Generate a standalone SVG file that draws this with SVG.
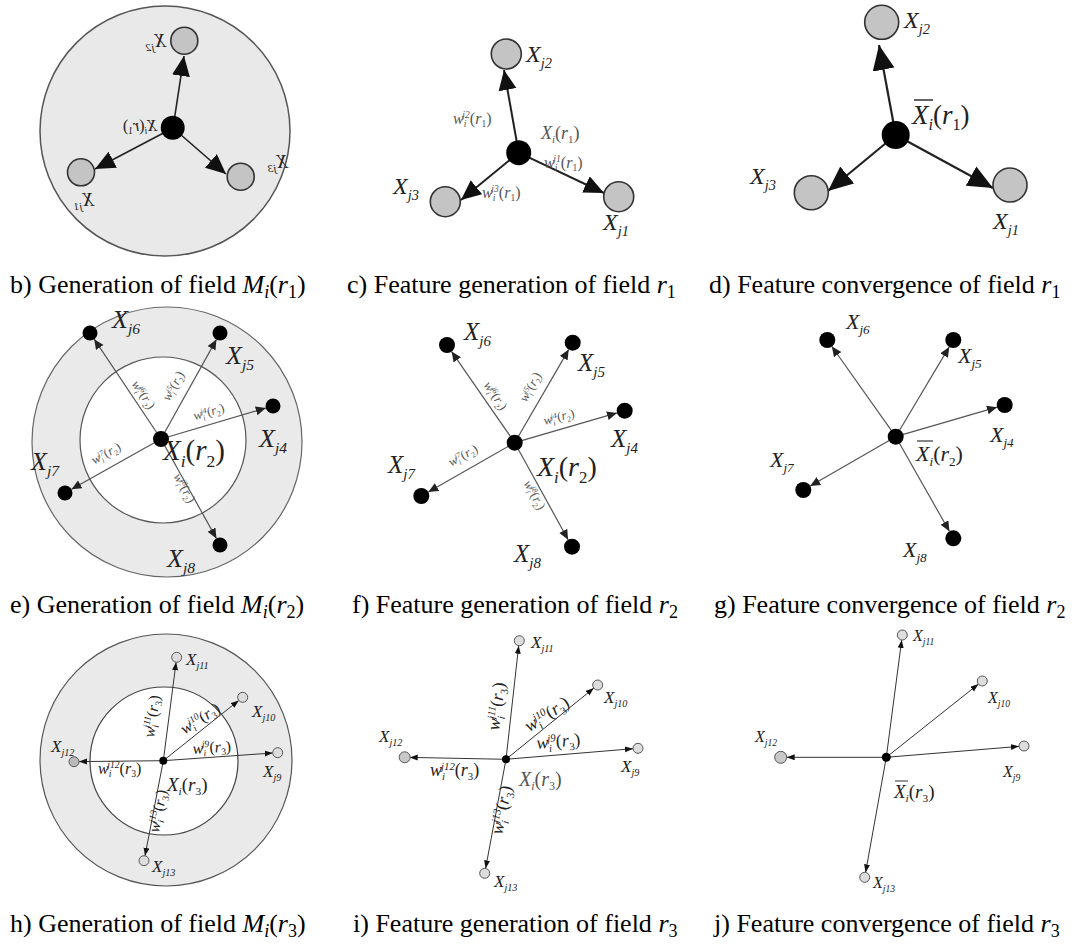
<svg xmlns="http://www.w3.org/2000/svg" width="1085" height="945" viewBox="0 0 1085 945">
<style>
.cap{font-family:"Liberation Serif",serif;font-size:26px;fill:#000}
.mi{font-style:italic}
.lb{font-family:"Liberation Serif",serif;font-style:italic;fill:#222}
.wl{font-family:"Liberation Serif",serif;font-style:italic;fill:#555}
.s{font-size:0.6em}
.up{font-style:normal}
.gn{fill:#c4c4c4;stroke:#333;stroke-width:1.6}
.gs{fill:#ddd;stroke:#555;stroke-width:1}
.bk{fill:#000}
.eb{stroke:#222;stroke-width:1.6;fill:none}
.ec{stroke:#222;stroke-width:2;fill:none}
.ed{stroke:#222;stroke-width:2.2;fill:none}
.ee{stroke:#555;stroke-width:1.2;fill:none}
.eh{stroke:#333;stroke-width:1;fill:none}
</style>
<defs>
<marker id="ab" markerUnits="userSpaceOnUse" markerWidth="22" markerHeight="20" refX="20" refY="9" orient="auto"><path d="M0,0 L20,9 L0,18 z" fill="#111"/></marker>
<marker id="ad" markerUnits="userSpaceOnUse" markerWidth="27" markerHeight="24" refX="25" refY="11" orient="auto"><path d="M0,0 L25,11 L0,22 z" fill="#111"/></marker>
<marker id="as" markerUnits="userSpaceOnUse" markerWidth="12" markerHeight="10" refX="10" refY="4.5" orient="auto"><path d="M0,0 L10,4.5 L0,9 z" fill="#222"/></marker>
<marker id="at" markerUnits="userSpaceOnUse" markerWidth="10" markerHeight="8" refX="8" refY="3" orient="auto"><path d="M0,0 L8,3 L0,6 z" fill="#111"/></marker>
</defs>

<!-- backgrounds -->
<circle cx="165" cy="131" r="125" fill="#e9e9e9" stroke="#555" stroke-width="1.5"/>
<circle cx="167" cy="442" r="135" fill="#eaeaea" stroke="#666" stroke-width="1.2"/>
<circle cx="163" cy="440" r="83" fill="#fff" stroke="#555" stroke-width="1.2"/>
<circle cx="166" cy="760" r="126" fill="#eaeaea" stroke="#555" stroke-width="1.2"/>
<circle cx="164" cy="761" r="74" fill="#fff" stroke="#444" stroke-width="1.2"/>

<g id="connectors">
<line class="eb" x1="173" y1="128" x2="184" y2="56" marker-end="url(#ab)"/>
<line class="eb" x1="173" y1="128" x2="95" y2="169" marker-end="url(#ab)"/>
<line class="eb" x1="173" y1="128" x2="226" y2="174" marker-end="url(#ab)"/>

<line class="ec" x1="518.7" y1="152.7" x2="504" y2="70" marker-end="url(#ab)"/>
<line class="ec" x1="518.7" y1="152.7" x2="461" y2="200" marker-end="url(#ab)"/>
<line class="ec" x1="518.7" y1="152.7" x2="604" y2="193" marker-end="url(#ab)"/>

<line class="ed" x1="895.7" y1="135" x2="879" y2="45" marker-end="url(#ad)"/>
<line class="ed" x1="895.7" y1="135" x2="828" y2="191" marker-end="url(#ad)"/>
<line class="ed" x1="895.7" y1="135" x2="993" y2="188" marker-end="url(#ad)"/>

<line class="ee" x1="161" y1="439" x2="94.2" y2="339.2" marker-end="url(#as)"/>
<line class="ee" x1="161" y1="439" x2="216.4" y2="339.6" marker-end="url(#as)"/>
<line class="ee" x1="161" y1="439" x2="265.8" y2="408.1" marker-end="url(#as)"/>
<line class="ee" x1="161" y1="439" x2="71.5" y2="489.3" marker-end="url(#as)"/>
<line class="ee" x1="161" y1="439" x2="216.4" y2="538.4" marker-end="url(#as)"/>

<line class="ee" x1="514.7" y1="442.7" x2="451.6" y2="351.6" marker-end="url(#as)"/>
<line class="ee" x1="514.7" y1="442.7" x2="568.7" y2="349.6" marker-end="url(#as)"/>
<line class="ee" x1="514.7" y1="442.7" x2="617" y2="412.9" marker-end="url(#as)"/>
<line class="ee" x1="514.7" y1="442.7" x2="428.3" y2="492" marker-end="url(#as)"/>
<line class="ee" x1="514.7" y1="442.7" x2="568.1" y2="539.7" marker-end="url(#as)"/>

<line class="ee" x1="895.7" y1="436.7" x2="831.9" y2="346.5" marker-end="url(#as)"/>
<line class="ee" x1="895.7" y1="436.7" x2="949.2" y2="346.9" marker-end="url(#as)"/>
<line class="ee" x1="895.7" y1="436.7" x2="997" y2="407.2" marker-end="url(#as)"/>
<line class="ee" x1="895.7" y1="436.7" x2="810.2" y2="486" marker-end="url(#as)"/>
<line class="ee" x1="895.7" y1="436.7" x2="949.4" y2="531.3" marker-end="url(#as)"/>

<line class="eh" x1="163.3" y1="760.7" x2="176.1" y2="662.3" marker-end="url(#at)"/>
<line class="eh" x1="163.3" y1="760.7" x2="238.8" y2="700.4" marker-end="url(#at)"/>
<line class="eh" x1="163.3" y1="760.7" x2="272.7" y2="753" marker-end="url(#at)"/>
<line class="eh" x1="163.3" y1="760.7" x2="79" y2="761.6" marker-end="url(#at)"/>
<line class="eh" x1="163.3" y1="760.7" x2="145" y2="855.8" marker-end="url(#at)"/>

<line class="eh" x1="506" y1="759.3" x2="518.7" y2="645.7" marker-end="url(#at)"/>
<line class="eh" x1="506" y1="759.3" x2="593.8" y2="688.1" marker-end="url(#at)"/>
<line class="eh" x1="506" y1="759.3" x2="633" y2="748.7" marker-end="url(#at)"/>
<line class="eh" x1="506" y1="759.3" x2="409.7" y2="757.4" marker-end="url(#at)"/>
<line class="eh" x1="506" y1="759.3" x2="485.6" y2="868.4" marker-end="url(#at)"/>

<line class="eh" x1="886.3" y1="757.3" x2="901.7" y2="640" marker-end="url(#at)"/>
<line class="eh" x1="886.3" y1="757.3" x2="978.4" y2="684.1" marker-end="url(#at)"/>
<line class="eh" x1="886.3" y1="757.3" x2="1019" y2="746.4" marker-end="url(#at)"/>
<line class="eh" x1="886.3" y1="757.3" x2="786.7" y2="757.3" marker-end="url(#at)"/>
<line class="eh" x1="886.3" y1="757.3" x2="865.6" y2="872.4" marker-end="url(#at)"/>
</g>

<g id="edge-labels">
<text class="wl" font-size="16" x="453" y="124">w<tspan class="s" dy="3">i</tspan><tspan class="s" dx="-4" dy="-9">j2</tspan><tspan class="up" dy="6">(</tspan>r<tspan class="s up" dy="3">1</tspan><tspan class="up" dy="-3">)</tspan></text>
<text class="wl" font-size="16" x="544" y="168">w<tspan class="s" dy="3">i</tspan><tspan class="s" dx="-4" dy="-9">j1</tspan><tspan class="up" dy="6">(</tspan>r<tspan class="s up" dy="3">1</tspan><tspan class="up" dy="-3">)</tspan></text>
<text class="wl" font-size="16" x="482" y="198">w<tspan class="s" dy="3">i</tspan><tspan class="s" dx="-4" dy="-9">j3</tspan><tspan class="up" dy="6">(</tspan>r<tspan class="s up" dy="3">1</tspan><tspan class="up" dy="-3">)</tspan></text>

<text class="wl" font-size="13" text-anchor="middle" transform="translate(140,397) rotate(56)">w<tspan class="s" dy="3">i</tspan><tspan class="s" dx="-3" dy="-7">j6</tspan><tspan class="up" dy="4">(</tspan>r<tspan class="s up" dy="3">2</tspan><tspan class="up" dy="-3">)</tspan></text>
<text class="wl" font-size="13" text-anchor="middle" transform="translate(177,388) rotate(-61)">w<tspan class="s" dy="3">i</tspan><tspan class="s" dx="-3" dy="-7">j5</tspan><tspan class="up" dy="4">(</tspan>r<tspan class="s up" dy="3">2</tspan><tspan class="up" dy="-3">)</tspan></text>
<text class="wl" font-size="13" text-anchor="middle" transform="translate(210,416) rotate(-16)">w<tspan class="s" dy="3">i</tspan><tspan class="s" dx="-3" dy="-7">j4</tspan><tspan class="up" dy="4">(</tspan>r<tspan class="s up" dy="3">2</tspan><tspan class="up" dy="-3">)</tspan></text>
<text class="wl" font-size="13" text-anchor="middle" transform="translate(108,457) rotate(-29)">w<tspan class="s" dy="3">i</tspan><tspan class="s" dx="-3" dy="-7">j7</tspan><tspan class="up" dy="4">(</tspan>r<tspan class="s up" dy="3">2</tspan><tspan class="up" dy="-3">)</tspan></text>
<text class="wl" font-size="13" text-anchor="middle" transform="translate(181,490) rotate(61)">w<tspan class="s" dy="3">i</tspan><tspan class="s" dx="-3" dy="-7">j8</tspan><tspan class="up" dy="4">(</tspan>r<tspan class="s up" dy="3">2</tspan><tspan class="up" dy="-3">)</tspan></text>

<text class="wl" font-size="13" text-anchor="middle" transform="translate(492,398) rotate(56)">w<tspan class="s" dy="3">i</tspan><tspan class="s" dx="-3" dy="-7">j6</tspan><tspan class="up" dy="4">(</tspan>r<tspan class="s up" dy="3">2</tspan><tspan class="up" dy="-3">)</tspan></text>
<text class="wl" font-size="13" text-anchor="middle" transform="translate(534,389) rotate(-61)">w<tspan class="s" dy="3">i</tspan><tspan class="s" dx="-3" dy="-7">j5</tspan><tspan class="up" dy="4">(</tspan>r<tspan class="s up" dy="3">2</tspan><tspan class="up" dy="-3">)</tspan></text>
<text class="wl" font-size="13" text-anchor="middle" transform="translate(560,421) rotate(-15)">w<tspan class="s" dy="3">i</tspan><tspan class="s" dx="-3" dy="-7">j4</tspan><tspan class="up" dy="4">(</tspan>r<tspan class="s up" dy="3">2</tspan><tspan class="up" dy="-3">)</tspan></text>
<text class="wl" font-size="13" text-anchor="middle" transform="translate(465,459) rotate(-29)">w<tspan class="s" dy="3">i</tspan><tspan class="s" dx="-3" dy="-7">j7</tspan><tspan class="up" dy="4">(</tspan>r<tspan class="s up" dy="3">2</tspan><tspan class="up" dy="-3">)</tspan></text>
<text class="wl" font-size="13" text-anchor="middle" transform="translate(531,497) rotate(61)">w<tspan class="s" dy="3">i</tspan><tspan class="s" dx="-3" dy="-7">j8</tspan><tspan class="up" dy="4">(</tspan>r<tspan class="s up" dy="3">2</tspan><tspan class="up" dy="-3">)</tspan></text>

<text class="lb" font-size="16" x="98" y="774">w<tspan class="s" dy="3">i</tspan><tspan class="s" dx="-4" dy="-9">j12</tspan><tspan class="up" dy="6">(</tspan>r<tspan class="s up" dy="3">3</tspan><tspan class="up" dy="-3">)</tspan></text>
<text class="lb" font-size="16" transform="translate(193,754) rotate(-4)">w<tspan class="s" dy="3">i</tspan><tspan class="s" dx="-4" dy="-9">j9</tspan><tspan class="up" dy="6">(</tspan>r<tspan class="s up" dy="3">3</tspan><tspan class="up" dy="-3">)</tspan></text>
<text class="lb" font-size="16" text-anchor="middle" transform="translate(203,723) rotate(-33)">w<tspan class="s" dy="3">i</tspan><tspan class="s" dx="-4" dy="-9">j10</tspan><tspan class="up" dy="6">(</tspan>r<tspan class="s up" dy="3">3</tspan><tspan class="up" dy="-3">)</tspan></text>
<text class="lb" font-size="16" text-anchor="middle" transform="translate(157,717) rotate(-82)">w<tspan class="s" dy="3">i</tspan><tspan class="s" dx="-4" dy="-9">j11</tspan><tspan class="up" dy="6">(</tspan>r<tspan class="s up" dy="3">3</tspan><tspan class="up" dy="-3">)</tspan></text>
<text class="lb" font-size="16" text-anchor="middle" transform="translate(163,812) rotate(-79)">w<tspan class="s" dy="3">i</tspan><tspan class="s" dx="-4" dy="-9">j13</tspan><tspan class="up" dy="6">(</tspan>r<tspan class="s up" dy="3">3</tspan><tspan class="up" dy="-3">)</tspan></text>

<text class="lb" font-size="18" x="430" y="776">w<tspan class="s" dy="4">i</tspan><tspan class="s" dx="-4" dy="-10">j12</tspan><tspan class="up" dy="6">(</tspan>r<tspan class="s up" dy="4">3</tspan><tspan class="up" dy="-4">)</tspan></text>
<text class="lb" font-size="18" transform="translate(537,749) rotate(-5)">w<tspan class="s" dy="4">i</tspan><tspan class="s" dx="-4" dy="-10">j9</tspan><tspan class="up" dy="6">(</tspan>r<tspan class="s up" dy="4">3</tspan><tspan class="up" dy="-4">)</tspan></text>
<text class="lb" font-size="18" text-anchor="middle" transform="translate(550,719) rotate(-33)">w<tspan class="s" dy="4">i</tspan><tspan class="s" dx="-4" dy="-10">j10</tspan><tspan class="up" dy="6">(</tspan>r<tspan class="s up" dy="4">3</tspan><tspan class="up" dy="-4">)</tspan></text>
<text class="lb" font-size="18" text-anchor="middle" transform="translate(502,707) rotate(-83)">w<tspan class="s" dy="4">i</tspan><tspan class="s" dx="-4" dy="-10">j11</tspan><tspan class="up" dy="6">(</tspan>r<tspan class="s up" dy="4">3</tspan><tspan class="up" dy="-4">)</tspan></text>
<text class="lb" font-size="18" text-anchor="middle" transform="translate(507,811) rotate(-79)">w<tspan class="s" dy="4">i</tspan><tspan class="s" dx="-4" dy="-10">j13</tspan><tspan class="up" dy="6">(</tspan>r<tspan class="s up" dy="4">3</tspan><tspan class="up" dy="-4">)</tspan></text>
</g>

<!-- panel b -->
<g id="b-center"><circle class="bk" cx="172.7" cy="127.7" r="12"/>
<g transform="translate(157,131) scale(-1,1)"><text class="lb" font-size="16" x="0" y="0">X<tspan class="s" dy="3">i</tspan><tspan class="up" dy="-3">(</tspan>r<tspan class="s up" dy="3">1</tspan><tspan class="up" dy="-3">)</tspan></text></g></g>
<g id="b-xj2"><circle class="gn" cx="184.3" cy="40.7" r="13.5"/>
<g transform="translate(166,47) scale(-1,1)"><text class="lb" font-size="19">X<tspan class="s" dy="4">j2</tspan></text></g></g>
<g id="b-xj1"><circle class="gn" cx="81" cy="172.3" r="13.5"/>
<g transform="translate(94,206) scale(-1,1)"><text class="lb" font-size="19">X<tspan class="s" dy="4">j1</tspan></text></g></g>
<g id="b-xj3"><circle class="gn" cx="240.7" cy="176.7" r="13.5"/>
<g transform="translate(288,168) scale(-1,1)"><text class="lb" font-size="19">X<tspan class="s" dy="4">j3</tspan></text></g></g>

<!-- panel c -->
<g id="c-center"><circle class="bk" cx="518.7" cy="152.7" r="12.5"/>
<text class="wl" font-size="18" x="541" y="139">X<tspan class="s" dy="4">i</tspan><tspan class="up" dy="-4">(</tspan>r<tspan class="s up" dy="4">1</tspan><tspan class="up" dy="-4">)</tspan></text></g>
<g id="c-xj2"><circle class="gn" cx="506.3" cy="54" r="15"/>
<text class="lb" font-size="24" x="526" y="62">X<tspan class="s" dy="6">j2</tspan></text></g>
<g id="c-xj3"><circle class="gn" cx="445.3" cy="201.7" r="15"/>
<text class="lb" font-size="24" x="393" y="194">X<tspan class="s" dy="6">j3</tspan></text></g>
<g id="c-xj1"><circle class="gn" cx="618.7" cy="196.7" r="15"/>
<text class="lb" font-size="24" x="603" y="230">X<tspan class="s" dy="6">j1</tspan></text></g>

<!-- panel d -->
<g id="d-center"><circle class="bk" cx="895.7" cy="135" r="14"/>
<text class="lb" font-size="27" x="912" y="124">X<tspan class="s" dy="6">i</tspan><tspan class="up" dy="-6">(</tspan>r<tspan class="s up" dy="6">1</tspan><tspan class="up" dy="-6">)</tspan></text>
<line x1="914" y1="100" x2="933" y2="100" stroke="#222" stroke-width="1.4"/></g>
<g id="d-xj2"><circle class="gn" cx="881.7" cy="22.3" r="17"/>
<text class="lb" font-size="24" x="904" y="28">X<tspan class="s" dy="6">j2</tspan></text></g>
<g id="d-xj3"><circle class="gn" cx="811.3" cy="192.7" r="17"/>
<text class="lb" font-size="24" x="750" y="184">X<tspan class="s" dy="6">j3</tspan></text></g>
<g id="d-xj1"><circle class="gn" cx="1010" cy="185" r="17"/>
<text class="lb" font-size="24" x="993" y="229">X<tspan class="s" dy="6">j1</tspan></text></g>

<!-- panel e -->
<g id="e-center"><circle class="bk" cx="161" cy="439" r="8"/>
<text class="lb" font-size="29" x="163" y="460">X<tspan class="s" dy="7">i</tspan><tspan class="up" dy="-7">(</tspan>r<tspan class="s up" dy="7">2</tspan><tspan class="up" dy="-7">)</tspan></text></g>
<g id="e-xj6"><circle class="bk" cx="90" cy="333" r="7.5"/><text class="lb" font-size="26" x="112" y="328">X<tspan class="s" dy="6">j6</tspan></text></g>
<g id="e-xj5"><circle class="bk" cx="220" cy="333" r="7.5"/><text class="lb" font-size="26" x="226" y="364">X<tspan class="s" dy="6">j5</tspan></text></g>
<g id="e-xj4"><circle class="bk" cx="273" cy="406" r="7.5"/><text class="lb" font-size="26" x="259" y="447">X<tspan class="s" dy="6">j4</tspan></text></g>
<g id="e-xj7"><circle class="bk" cx="65" cy="493" r="7.5"/><text class="lb" font-size="26" x="31" y="470">X<tspan class="s" dy="6">j7</tspan></text></g>
<g id="e-xj8"><circle class="bk" cx="220" cy="545" r="7.5"/><text class="lb" font-size="26" x="167" y="567">X<tspan class="s" dy="6">j8</tspan></text></g>

<!-- panel f -->
<g id="f-center"><circle class="bk" cx="514.7" cy="442.7" r="8"/>
<text class="lb" font-size="28" x="537" y="476">X<tspan class="s" dy="7">i</tspan><tspan class="up" dy="-7">(</tspan>r<tspan class="s up" dy="7">2</tspan><tspan class="up" dy="-7">)</tspan></text></g>
<g id="f-xj6"><circle class="bk" cx="447" cy="345" r="8"/><text class="lb" font-size="25" x="464" y="340">X<tspan class="s" dy="6">j6</tspan></text></g>
<g id="f-xj5"><circle class="bk" cx="572.7" cy="342.7" r="8"/><text class="lb" font-size="25" x="578" y="371">X<tspan class="s" dy="6">j5</tspan></text></g>
<g id="f-xj4"><circle class="bk" cx="624.7" cy="410.7" r="8"/><text class="lb" font-size="25" x="611" y="447">X<tspan class="s" dy="6">j4</tspan></text></g>
<g id="f-xj7"><circle class="bk" cx="421.3" cy="496" r="8"/><text class="lb" font-size="25" x="388" y="473">X<tspan class="s" dy="6">j7</tspan></text></g>
<g id="f-xj8"><circle class="bk" cx="572" cy="546.7" r="8"/><text class="lb" font-size="25" x="514" y="562">X<tspan class="s" dy="6">j8</tspan></text></g>

<!-- panel g -->
<g id="g-center"><circle class="bk" cx="895.7" cy="436.7" r="8"/>
<text class="lb" font-size="22" x="916" y="461">X<tspan class="s" dy="5">i</tspan><tspan class="up" dy="-5">(</tspan>r<tspan class="s up" dy="5">2</tspan><tspan class="up" dy="-5">)</tspan></text>
<line x1="917" y1="441" x2="933" y2="441" stroke="#444" stroke-width="1.3"/></g>
<g id="g-xj6"><circle class="bk" cx="827.3" cy="340" r="8"/><text class="lb" font-size="22" x="846" y="329">X<tspan class="s" dy="5">j6</tspan></text></g>
<g id="g-xj5"><circle class="bk" cx="953.3" cy="340" r="8"/><text class="lb" font-size="22" x="958" y="363">X<tspan class="s" dy="5">j5</tspan></text></g>
<g id="g-xj4"><circle class="bk" cx="1004.7" cy="405" r="8"/><text class="lb" font-size="22" x="990" y="442">X<tspan class="s" dy="5">j4</tspan></text></g>
<g id="g-xj7"><circle class="bk" cx="803.3" cy="490" r="8"/><text class="lb" font-size="22" x="770" y="467">X<tspan class="s" dy="5">j7</tspan></text></g>
<g id="g-xj8"><circle class="bk" cx="953.3" cy="538.3" r="8"/><text class="lb" font-size="22" x="903" y="557">X<tspan class="s" dy="5">j8</tspan></text></g>

<!-- panel h -->
<g id="h-center"><circle class="bk" cx="163.3" cy="760.7" r="4"/>
<text class="lb" font-size="19" x="167" y="791">X<tspan class="s" dy="4">i</tspan><tspan class="up" dy="-4">(</tspan>r<tspan class="s up" dy="4">3</tspan><tspan class="up" dy="-4">)</tspan></text></g>
<g id="h-xj11"><circle class="gs" cx="176.7" cy="657.3" r="5"/><text class="lb" font-size="17" x="186" y="665">X<tspan class="s" dy="4">j11</tspan></text></g>
<g id="h-xj10"><circle class="gs" cx="242.7" cy="697.3" r="5"/><text class="lb" font-size="17" x="252" y="717">X<tspan class="s" dy="4">j10</tspan></text></g>
<g id="h-xj9"><circle class="gs" cx="277.7" cy="752.7" r="5"/><text class="lb" font-size="17" x="263" y="777">X<tspan class="s" dy="4">j9</tspan></text></g>
<g id="h-xj12"><circle class="gs" cx="74" cy="761.7" r="5" style="fill:#bbb"/><text class="lb" font-size="17" x="51" y="752">X<tspan class="s" dy="4">j12</tspan></text></g>
<g id="h-xj13"><circle class="gs" cx="144" cy="860.7" r="5"/><text class="lb" font-size="17" x="152" y="872">X<tspan class="s" dy="4">j13</tspan></text></g>

<!-- panel i -->
<g id="i-center"><circle class="bk" cx="506" cy="759.3" r="4"/>
<text class="lb" font-size="20" x="519" y="786" style="fill:#555">X<tspan class="s" dy="4">i</tspan><tspan class="up" dy="-4">(</tspan>r<tspan class="s up" dy="4">3</tspan><tspan class="up" dy="-4">)</tspan></text></g>
<g id="i-xj11"><circle class="gs" cx="519.3" cy="640.7" r="5"/><text class="lb" font-size="17" x="531" y="648">X<tspan class="s" dy="4">j11</tspan></text></g>
<g id="i-xj10"><circle class="gs" cx="597.7" cy="685" r="5"/><text class="lb" font-size="17" x="604" y="703">X<tspan class="s" dy="4">j10</tspan></text></g>
<g id="i-xj9"><circle class="gs" cx="638" cy="748.3" r="5"/><text class="lb" font-size="17" x="621" y="772">X<tspan class="s" dy="4">j9</tspan></text></g>
<g id="i-xj12"><circle class="gs" cx="404.7" cy="757.3" r="5.5" style="fill:#c8c8c8"/><text class="lb" font-size="17" x="379" y="742">X<tspan class="s" dy="4">j12</tspan></text></g>
<g id="i-xj13"><circle class="gs" cx="484.7" cy="873.3" r="5"/><text class="lb" font-size="17" x="494" y="887">X<tspan class="s" dy="4">j13</tspan></text></g>

<!-- panel j -->
<g id="j-center"><circle class="bk" cx="886.3" cy="757.3" r="4.5"/>
<text class="lb" font-size="19" x="894" y="798">X<tspan class="s" dy="4">i</tspan><tspan class="up" dy="-4">(</tspan>r<tspan class="s up" dy="4">3</tspan><tspan class="up" dy="-4">)</tspan></text>
<line x1="895" y1="781" x2="908" y2="781" stroke="#444" stroke-width="1.1"/></g>
<g id="j-xj11"><circle class="gs" cx="902.3" cy="635" r="5"/><text class="lb" font-size="16" x="913" y="641">X<tspan class="s" dy="4">j11</tspan></text></g>
<g id="j-xj10"><circle class="gs" cx="982.3" cy="681" r="5"/><text class="lb" font-size="16" x="988" y="703">X<tspan class="s" dy="4">j10</tspan></text></g>
<g id="j-xj9"><circle class="gs" cx="1024" cy="746" r="5"/><text class="lb" font-size="16" x="1003" y="777">X<tspan class="s" dy="4">j9</tspan></text></g>
<g id="j-xj12"><circle class="gs" cx="780.7" cy="757.3" r="6" style="fill:#c8c8c8"/><text class="lb" font-size="16" x="755" y="742">X<tspan class="s" dy="4">j12</tspan></text></g>
<g id="j-xj13"><circle class="gs" cx="864.7" cy="877.3" r="5"/><text class="lb" font-size="16" x="873" y="888">X<tspan class="s" dy="4">j13</tspan></text></g>

<!-- captions -->
<g id="captions">
<text class="cap" x="10" y="293">b) Generation of field <tspan class="mi">M</tspan><tspan class="mi" font-size="18" dy="5">i</tspan><tspan dy="-5">(</tspan><tspan class="mi">r</tspan><tspan font-size="18" dy="5">1</tspan><tspan dy="-5">)</tspan></text>
<text class="cap" x="347" y="293">c) Feature generation of field <tspan class="mi">r</tspan><tspan font-size="18" dy="5">1</tspan></text>
<text class="cap" x="709" y="293">d) Feature convergence of field <tspan class="mi">r</tspan><tspan font-size="18" dy="5">1</tspan></text>
<text class="cap" x="10" y="613">e) Generation of field <tspan class="mi">M</tspan><tspan class="mi" font-size="18" dy="5">i</tspan><tspan dy="-5">(</tspan><tspan class="mi">r</tspan><tspan font-size="18" dy="5">2</tspan><tspan dy="-5">)</tspan></text>
<text class="cap" x="352" y="613">f) Feature generation of field <tspan class="mi">r</tspan><tspan font-size="18" dy="5">2</tspan></text>
<text class="cap" x="714" y="613">g) Feature convergence of field <tspan class="mi">r</tspan><tspan font-size="18" dy="5">2</tspan></text>
<text class="cap" x="10" y="932">h) Generation of field <tspan class="mi">M</tspan><tspan class="mi" font-size="18" dy="5">i</tspan><tspan dy="-5">(</tspan><tspan class="mi">r</tspan><tspan font-size="18" dy="5">3</tspan><tspan dy="-5">)</tspan></text>
<text class="cap" x="353" y="932">i) Feature generation of field <tspan class="mi">r</tspan><tspan font-size="18" dy="5">3</tspan></text>
<text class="cap" x="714" y="932">j) Feature convergence of field <tspan class="mi">r</tspan><tspan font-size="18" dy="5">3</tspan></text>
</g>
</svg>
